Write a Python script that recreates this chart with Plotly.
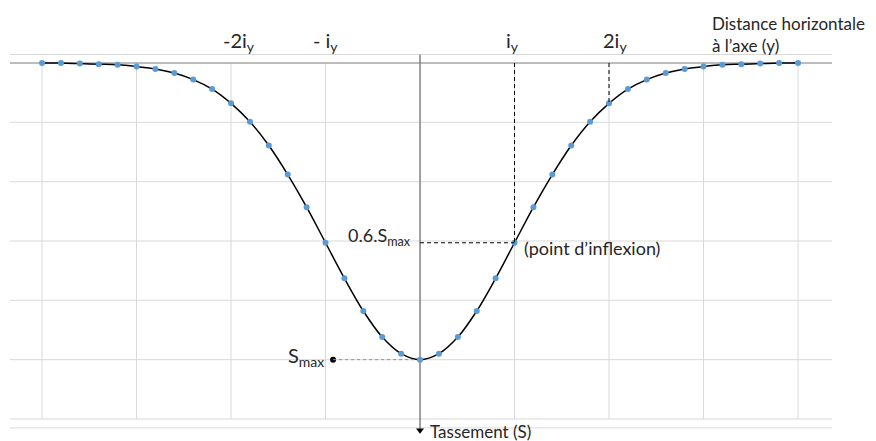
import plotly.graph_objects as go

# Distance horizontale (en multiples de i_y) et tassement (unites de grille, Smax = 5)
distance = [-4.0, -3.8, -3.6, -3.4, -3.2, -3.0, -2.8, -2.6, -2.4, -2.2, -2.0,
            -1.8, -1.6, -1.4, -1.2, -1.0, -0.8, -0.6, -0.4, -0.2, 0.0,
            0.2, 0.4, 0.6, 0.8, 1.0, 1.2, 1.4, 1.6, 1.8, 2.0,
            2.2, 2.4, 2.6, 2.8, 3.0, 3.2, 3.4, 3.6, 3.8, 4.0]
tassement = [0.0, 0.0, 0.01, 0.02, 0.03, 0.06, 0.10, 0.17, 0.28, 0.44, 0.68,
             0.99, 1.39, 1.88, 2.43, 3.03, 3.63, 4.18, 4.62, 4.90, 5.0,
             4.90, 4.62, 4.18, 3.63, 3.03, 2.43, 1.88, 1.39, 0.99, 0.68,
             0.44, 0.28, 0.17, 0.10, 0.06, 0.03, 0.02, 0.01, 0.0, 0.0]
grid_x = [-4, -3, -2, -1, 1, 2, 3, 4]
grid_y = [1, 2, 3, 4, 5, 6]
tick_labels = ["-2i<sub>y</sub>", "- i<sub>y</sub>", "i<sub>y</sub>", "2i<sub>y</sub>"]
tick_pos = [-1.92, -1.0, 0.98, 2.06]

SMAX = max(tassement)
I_Y = 1.0
S_INF = tassement[distance.index(I_Y)]
S_2I = tassement[distance.index(2 * I_Y)]

# the page puts the figure 8px from the top-left corner
X_RANGE = [-4.360, 4.825]
Y_RANGE = [6.371, -0.927]
GRID_X = [-4.339, 4.360]
GRID = "#d9d9d9"
AXIS = "#808080"
TEXT = "#262626"
FONT = "Lato"
DASH = "4px,3px"

fig = go.Figure()

shapes = []
for gx in grid_x:
    shapes.append(dict(type="line", x0=gx, x1=gx, y0=0, y1=6,
                       line=dict(color=GRID, width=1), layer="below"))
for gy in grid_y + [-0.143, 6.15]:
    shapes.append(dict(type="line", x0=GRID_X[0], x1=GRID_X[1], y0=gy, y1=gy,
                       line=dict(color=GRID, width=1), layer="below"))
# axe horizontal (y) en haut
shapes.append(dict(type="line", x0=GRID_X[0], x1=GRID_X[1], y0=0, y1=0,
                   line=dict(color="#a6a6a6", width=1.5), layer="below"))
# axe vertical (S)
shapes.append(dict(type="line", x0=0, x1=0, y0=-0.143, y1=6.17,
                   line=dict(color=AXIS, width=1.5), layer="below"))
# repères en pointillés
shapes.append(dict(type="line", x0=I_Y, x1=I_Y, y0=0, y1=S_INF,
                   line=dict(color="black", width=1, dash=DASH)))
shapes.append(dict(type="line", x0=0, x1=I_Y, y0=S_INF, y1=S_INF,
                   line=dict(color="black", width=1, dash=DASH)))
shapes.append(dict(type="line", x0=2 * I_Y, x1=2 * I_Y, y0=0, y1=S_2I,
                   line=dict(color="black", width=1, dash=DASH)))
shapes.append(dict(type="line", x0=-0.92, x1=0, y0=SMAX, y1=SMAX,
                   line=dict(color="#909090", width=1, dash="dot")))

fig.add_trace(go.Scatter(
    x=distance, y=tassement, mode="lines+markers",
    line=dict(color="black", width=1.5, shape="spline"),
    marker=dict(color="#5b9bd5", size=6, symbol="circle"),
    showlegend=False,
))
fig.add_trace(go.Scatter(
    x=[-0.92], y=[SMAX], mode="markers",
    marker=dict(color="black", size=6), showlegend=False,
))
fig.add_trace(go.Scatter(
    x=[0], y=[6.19], mode="markers",
    marker=dict(color="black", size=7, symbol="triangle-down"), showlegend=False,
))

annotations = []
for label, pos in zip(tick_labels, tick_pos):
    annotations.append(dict(x=pos, y=-0.36, text=label, xanchor="center",
                            yanchor="middle", font=dict(size=20)))
annotations += [
    dict(x=3.07, y=-0.88, text="Distance horizontale<br>à l’axe (y)",
         xanchor="left", yanchor="top", align="left", font=dict(size=17)),
    dict(x=-0.07, y=2.93, text="0.6.S<sub>max</sub>", xanchor="right",
         yanchor="middle", font=dict(size=18)),
    dict(x=1.08, y=3.12, text="(point d’inflexion)", xanchor="left",
         yanchor="middle", font=dict(size=18)),
    dict(x=-1.0, y=4.94, text="S<sub>max</sub>", xanchor="right",
         yanchor="middle", font=dict(size=20)),
    dict(x=0.08, y=6.21, text="Tassement (S)", xanchor="left",
         yanchor="middle", font=dict(size=17)),
]
for a in annotations:
    a.update(showarrow=False, xref="x", yref="y")
    a["font"].update(family=FONT, color=TEXT)

fig.update_layout(
    width=868, height=433,
    margin=dict(l=0, r=0, t=0, b=0),
    paper_bgcolor="white", plot_bgcolor="white",
    shapes=shapes, annotations=annotations,
    font=dict(family=FONT, color=TEXT),
)
fig.update_xaxes(range=X_RANGE, visible=False)
fig.update_yaxes(range=Y_RANGE, visible=False)

fig.write_html("out.html")
